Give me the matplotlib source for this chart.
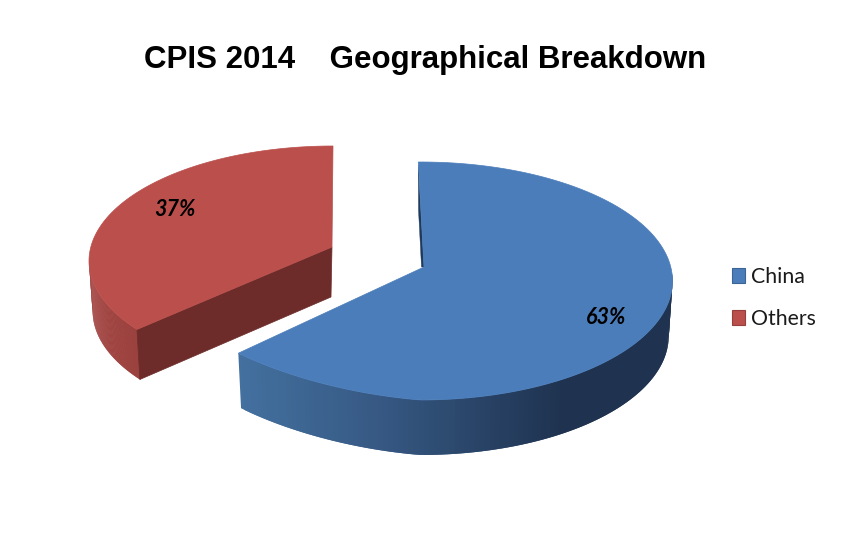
import numpy as np
import matplotlib
matplotlib.use("Agg")
import matplotlib.pyplot as plt
from matplotlib.patches import Patch
from matplotlib.colors import to_rgb

TITLE = "CPIS 2014    Geographical Breakdown"
categories = ["China", "Others"]
shares = [63, 37]
labels = ["63%", "37%"]
colors = ["#4b7dba", "#bb4f4c"]

fig = plt.figure(figsize=(8.65, 5.34), dpi=100, facecolor="white")
ax = fig.add_axes([0, 0, 1, 1])
ax.set_xlim(0, 865)
ax.set_ylim(534, 0)
ax.axis("off")


def mix(c1, c2, f):
    f = float(np.clip(f, 0, 1))
    return tuple((1 - f) * a + f * b for a, b in zip(to_rgb(c1), to_rgb(c2)))


def rim(t_deg, cx, cy, a, b, left_flat=0.0):
    t = np.radians(np.asarray(t_deg, float))
    c, s = np.cos(t), np.sin(t)
    x = cx + a * c
    y = cy - b * s
    mask = (c < 0) & (s < 0)
    y = y - left_flat * np.where(mask, np.abs(c * s), 0.0)
    return x, y


def draw_slice(share, start, direction, warp, cx, cy, a, b, apex, depth, flat,
               top_color, side_fn, side_range, cut_color=None):
    t = np.linspace(start, start + direction * warp * share * 3.6, 200)
    # side wall: overlapping strips, left to right, so no seams appear
    ts = np.linspace(side_range[0], side_range[1], 120)
    xt, yt = rim(ts, cx, cy, a, b, flat)
    xb = cx + (xt - cx) * 0.985
    yb = yt + depth
    for i in range(len(ts) - 1):
        j = min(i + 2, len(ts) - 1)
        col = side_fn(xt[i])
        ax.fill([xt[i], xt[j], xb[j], xb[i]],
                [yt[i], yt[j], yb[j], yb[i]],
                color=col, lw=0, zorder=2)
    # cut face seen from the front
    xr, yr = rim(t, cx, cy, a, b, flat)
    if cut_color is not None:
        ex, ey = xr[-1], yr[-1]
        ax.fill([apex[0], ex, cx + (ex - cx) * 0.985, apex[0] - 1],
                [apex[1], ey, ey + depth, apex[1] + depth],
                color=cut_color, lw=0.5, zorder=2.5)
    # top
    ax.fill(np.r_[apex[0], xr], np.r_[apex[1], yr], color=top_color, lw=0.5, zorder=3)
    return xr, yr


# Others (drawn first, behind)
def red_side(x):
    return mix("#a44643", "#9a413e", (x - 89) / 50)


draw_slice(shares[1], 90, 1, 0.95, 333, 261, 244, 115, (332, 247), 50, 0,
           colors[1], red_side, (178, 216.7), cut_color="#6d2c29")


# China
def blue_side(x):
    if x < 370:
        return mix("#43709f", "#375a85", (x - 237) / 133)
    return mix("#375a85", "#1f3350", (x - 370) / 190)


xr, yr = draw_slice(shares[0], 90.5, -1, 1.0, 420.5, 281, 252, 119, (424, 267), 55, 20,
                    colors[0], blue_side, (-136.3, 4))
# thin dark inner wall at the upper cut
ax.fill([xr[0], 424, 421.5, 418.5], [yr[0] + 3, 267, 267, 210],
        color="#1f3a5c", lw=0.3, zorder=2.5)

# value labels
ax.text(606, 318, labels[0], family="Lato", weight="bold", style="italic",
        fontsize=15.5, color="black", ha="center", va="center", zorder=5)
ax.text(175, 210, labels[1], family="Lato", weight="bold", style="italic",
        fontsize=15.5, color="black", ha="center", va="center", zorder=5)

ax.text(425, 60, TITLE, family="Liberation Sans", weight="bold", fontsize=22.5,
        color="black", ha="center", va="center")

handles = [Patch(facecolor=c, edgecolor=mix(c, "#000000", 0.2), lw=0.8) for c in colors]
ax.legend(handles, categories, loc="upper left", bbox_to_anchor=(732 / 865, 1 - 267 / 534),
          frameon=False, prop={"family": "Lato", "size": 15.3}, handlelength=0.62,
          handleheight=0.7, handletextpad=0.26, labelspacing=1.02,
          labelcolor="#1a1a1a", borderpad=0, borderaxespad=0)

fig.savefig("out.png", dpi=100, facecolor="white")
